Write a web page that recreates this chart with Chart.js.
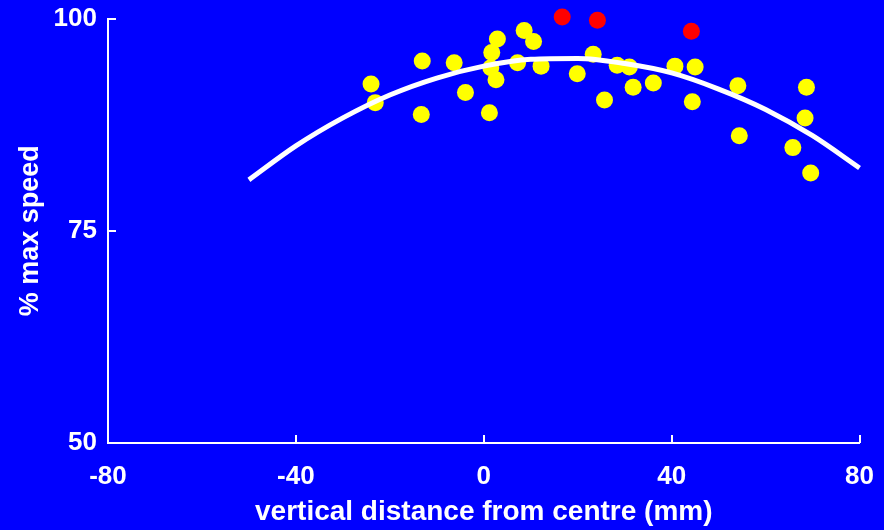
<!DOCTYPE html>
<html><head><meta charset="utf-8">
<script src="https://cdn.jsdelivr.net/npm/chart.js@4/dist/chart.umd.min.js"></script>
<style>html,body{margin:0;padding:0;background:#0000FF;}#wrap{width:884px;height:530px;}</style>
</head><body><div id="wrap"><canvas id="c" width="884" height="530"></canvas></div>
<script>
// Data
const yellowX = [-24.0,-23.1,-13.1,-13.3,-6.3,-3.9,1.2,1.7,1.5,2.6,2.9,7.2,8.6,10.6,12.2,19.9,23.3,25.7,28.4,31.0,31.8,36.1,40.7,44.4,45.0,54.1,54.4,65.8,68.7,68.4,69.6];
const yellowY = [92.3,90.1,95.0,88.7,94.8,91.3,88.9,96.0,94.2,92.8,97.6,94.8,98.6,97.3,94.4,93.5,95.8,90.4,94.5,94.3,91.9,92.4,94.4,90.2,94.3,92.1,86.2,84.8,91.9,88.3,81.8];
const redX = [16.7,24.2,44.2];
const redY = [100.2,99.8,98.5];
const fitX = [-50,-40,-30,-20,-10,0,10,20,30,40,50,60,70,80];
const fitY = [81.0,85.0,88.3,91.0,93.0,94.4,95.2,95.3,94.7,93.6,91.7,89.3,86.2,82.4];
const xTicks = [-80,-40,0,40,80];
const yTicks = [50,75,100];
const xTitle = 'vertical distance from centre (mm)';
const yTitle = '% max speed';

const pts = (xs, ys) => xs.map((x, i) => ({x: x, y: ys[i]}));

const inwardTicks = {
  id: 'inwardTicks',
  afterDatasetsDraw(chart) {
    const ctx = chart.ctx, xs = chart.scales.x, ys = chart.scales.y;
    ctx.save();
    ctx.strokeStyle = '#ffffff';
    ctx.lineWidth = 2;
    ctx.beginPath();
    xTicks.forEach(v => { const p = Math.round(xs.getPixelForValue(v)); ctx.moveTo(p, xs.top); ctx.lineTo(p, xs.top - 8); });
    yTicks.forEach(v => { const p = Math.round(ys.getPixelForValue(v)); ctx.moveTo(ys.right, p); ctx.lineTo(ys.right + 8, p); });
    ctx.stroke();
    ctx.restore();
  }
};

const bold = {family: '"Liberation Sans", Arial, sans-serif', weight: 'bold'};

new Chart(document.getElementById('c'), {
  type: 'scatter',
  data: {
    datasets: [
      {type: 'line', data: pts(fitX, fitY), borderColor: '#ffffff', borderWidth: 5, pointRadius: 0, fill: false, cubicInterpolationMode: 'monotone', order: 0, clip: false},
      {data: pts(yellowX, yellowY), backgroundColor: '#ffff00', borderWidth: 0, pointRadius: 8.5, order: 1, clip: false},
      {data: pts(redX, redY), backgroundColor: '#ff0000', borderWidth: 0, pointRadius: 8.5, order: 1, clip: false}
    ]
  },
  options: {
    responsive: false,
    animation: false,
    events: [],
    layout: {padding: {top: 9, right: 20, left: 0, bottom: 0}},
    plugins: {legend: {display: false}, tooltip: {enabled: false}},
    scales: {
      x: {
        type: 'linear', min: -80, max: 80,
        afterBuildTicks: s => { s.ticks = xTicks.map(v => ({value: v})); },
        afterFit: s => { s.height = 87; },
        grid: {display: false},
        border: {display: true, color: '#ffffff', width: 2},
        ticks: {color: '#ffffff', font: Object.assign({size: 26}, bold), padding: 10, maxRotation: 0},
        title: {display: true, text: xTitle, color: '#ffffff', font: Object.assign({size: 28}, bold), padding: {top: 4, bottom: 1}}
      },
      y: {
        type: 'linear', min: 50, max: 100,
        afterBuildTicks: s => { s.ticks = yTicks.map(v => ({value: v})); },
        afterFit: s => { s.width = 108; },
        grid: {display: false},
        border: {display: true, color: '#ffffff', width: 2},
        ticks: {color: '#ffffff', font: Object.assign({size: 26}, bold), padding: 3},
        title: {display: true, text: yTitle, color: '#ffffff', font: Object.assign({size: 27}, bold), padding: {top: 14, bottom: 0}}
      }
    }
  },
  plugins: [inwardTicks]
});
</script></body></html>
